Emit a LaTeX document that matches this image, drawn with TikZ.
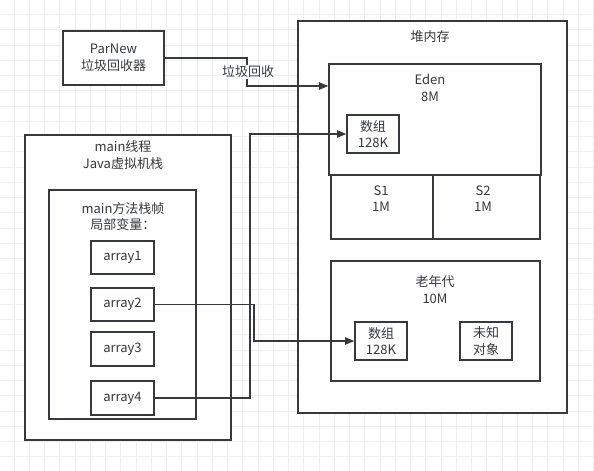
\documentclass[tikz,border=0pt]{standalone}
\usepackage{fontspec}
\setmainfont{Noto Sans CJK SC}
\usetikzlibrary{fit,arrows.meta}
\definecolor{linec}{HTML}{36393D}
\definecolor{gridc}{HTML}{EEEEEE}
\tikzset{
  txt/.style={font=\fontsize{9.75pt}{12.4pt}\selectfont, text=linec, align=center, inner sep=0pt},
  pbox/.style={draw=linec, line width=1pt, fill=white, inner sep=0pt},
  ctext/.style={label={[txt]center:#1}},
  conn/.style={draw=linec, line width=1pt},
  arr/.style={conn, -{Triangle[length=7pt,width=5.5pt]}},
}
\begin{document}
\begin{tikzpicture}[x=0.75pt,y=-0.75pt]
\useasboundingbox (0,0) rectangle (594,471);
\fill[white] (0,0) rectangle (594,471);
% grid
\foreach \i in {0,...,38} \draw[gridc, line width=0.75pt] ({14+15.25*\i},0) -- ({14+15.25*\i},471);
\foreach \j in {0,...,30} \draw[gridc, line width=0.75pt] (0,{14.5+15.25*\j}) -- (594,{14.5+15.25*\j});

% ParNew
\node[pbox, fit={(63,31) (164,85)}, ctext={ParNew\\垃圾回收器}] (parnew) {};

% heap
\node[pbox, fit={(298,21) (567,413)}] (heap) {};
\node[txt] (heapt) at (430,37) {堆内存};
\node[pbox, fit={(329,64) (541,175)}] (eden) {};
\node[txt] (edent) at (430,88) {Eden\\8M};
\node[pbox, fit={(347,115) (399,153)}, ctext={数组\\128K}] (earr) {};
\node[pbox, fit={(331,175) (433,239)}] (s1) {};
\node[txt] (s1t) at (381,198.5) {S1\\1M};
\node[pbox, fit={(433,175) (540,239)}] (s2) {};
\node[txt] (s2t) at (483,198.5) {S2\\1M};
\node[pbox, fit={(331,261) (540,381)}] (old) {};
\node[txt] (oldt) at (435,289.5) {老年代\\10M};
\node[pbox, fit={(355,322) (407,360)}, ctext={数组\\128K}] (oarr) {};
\node[pbox, fit={(460,322) (512,360)}, ctext={未知\\对象}] (unk) {};

% main thread
\node[pbox, fit={(25,135) (231,440)}] (mainth) {};
\node[txt] (maintht) at (123,155) {main线程\\Java虚拟机栈};
\node[pbox, fit={(49,190) (196,419)}] (frame) {};
\node[txt] (framet) at (123,216.5) {main方法栈帧\\局部变量：};
\node[pbox, fit={(91,241) (154,274)}, ctext={array1}] (a1) {};
\node[pbox, fit={(91,288) (154,321)}, ctext={array2}] (a2) {};
\node[pbox, fit={(91,332) (154,366)}, ctext={array3}] (a3) {};
\node[pbox, fit={(91,381) (154,415)}, ctext={array4}] (a4) {};

% connectors
\coordinate (cg) at (247,86);
\draw[arr] (parnew.east) -| (cg) -- (cg -| eden.west);
\node[txt, fill=white, inner sep=1pt] (gclabel) at (248,72) {垃圾回收};

\coordinate (c4) at (250,398);
\draw[arr] (a4.east) -- (c4) |- (earr.west);

\coordinate (c2) at (254,304.5);
\draw[arr] (a2.east) -- (c2) |- (oarr.west);
\end{tikzpicture}
\end{document}
